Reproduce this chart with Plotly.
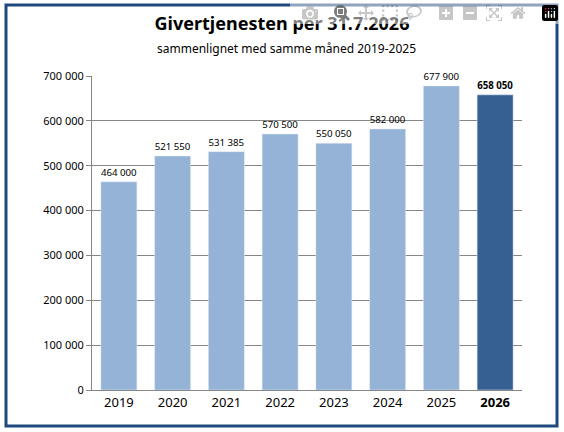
import plotly.graph_objects as go

years = ["2019", "2020", "2021", "2022", "2023", "2024", "2025", "2026"]
values = [464000, 521550, 531385, 570500, 550050, 582000, 677900, 658050]
tick_vals = [0, 100000, 200000, 300000, 400000, 500000, 600000, 700000]

def fmt(v):
    return f"{v:,}".replace(",", " ")

colors = ["#95b3d7"] * 7 + ["#366092"]
labels = [fmt(v) for v in values[:-1]] + ["<b>" + fmt(values[-1]) + "</b>"]
ticktext = years[:-1] + ["<b>" + years[-1] + "</b>"]

fig = go.Figure(go.Bar(
    x=years, y=values, marker_color=colors, text=labels,
    textposition="outside", cliponaxis=False,
    textfont=dict(size=10, color="black"),
))

W, H = 564, 432
l, r, t, b = 92, 42, 76, 42
pw, ph = W - l - r, H - t - b

def px(x):
    return (x - l) / pw

def py(y):
    return (H - b - y) / ph

fig.update_layout(
    width=W, height=H,
    margin=dict(l=l, r=r, t=t, b=b),
    paper_bgcolor="white", plot_bgcolor="white",
    font=dict(family="Noto Sans", color="black"),
    bargap=0.33, showlegend=False,
    title=dict(text="<b>Givertjenesten per 31.7.2026</b>", x=0.5, xanchor="center",
               y=0.945, yanchor="middle", font=dict(size=18)),
    annotations=[dict(text="sammenlignet med samme måned 2019-2025", xref="paper", yref="paper",
                      x=px(286), y=py(48), yanchor="middle", showarrow=False, font=dict(size=12))],
    shapes=[dict(type="rect", xref="paper", yref="paper",
                 x0=px(6), x1=px(557), y0=py(426), y1=py(5),
                 line=dict(color="#1f497d", width=3))],
)
fig.update_yaxes(range=[0, 700000], tickvals=tick_vals, ticktext=[fmt(v) for v in tick_vals],
                 showgrid=True, gridcolor="#868686", showline=True, linecolor="#868686",
                 ticks="outside", ticklen=5, tickcolor="#868686", tickfont=dict(size=11))
fig.update_xaxes(tickvals=years, ticktext=ticktext, showline=True, linecolor="#868686",
                 tickfont=dict(size=13))

fig.write_html("out.html", post_script="document.body.style.margin='0';")
